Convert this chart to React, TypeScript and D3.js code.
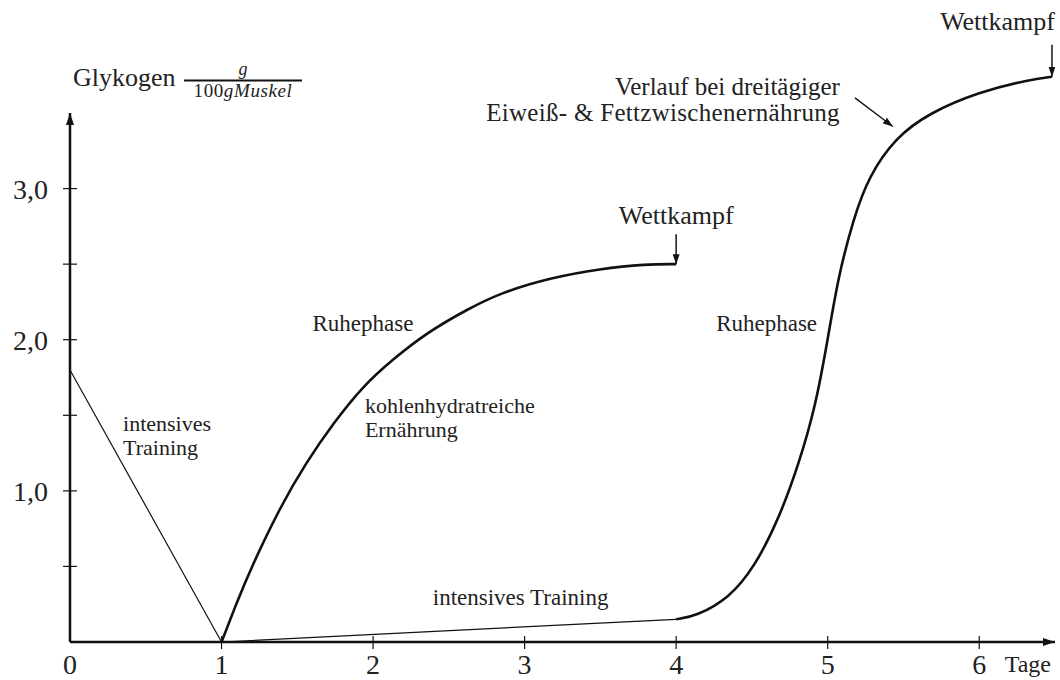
import React from 'react';
import * as d3 from 'd3';

// Glykogen-Verlauf (g / 100 g Muskel) über die Tage
const xTicks = [1, 2, 3, 4, 5, 6];
const xTickLabels = ['0', '1', '2', '3', '4', '5', '6'];
const yTicks = [0.5, 1, 1.5, 2, 2.5, 3];
const yTickLabels = ['1,0', '2,0', '3,0'];
const yLabelValues = [1, 2, 3];

// erste Trainingsphase (Tag 0 -> 1)
const training1Days = [0, 1];
const training1Values = [1.8, 0];

// Ruhephase mit kohlenhydratreicher Ernährung (Tag 1 -> 4)
const recoveryDays = [1, 1.1, 1.19, 1.39, 1.56, 1.74, 1.93, 2.13, 2.36, 2.62, 2.84, 3.17, 3.5, 3.8, 4];
const recoveryValues = [0, 0.26, 0.48, 0.9, 1.19, 1.45, 1.69, 1.87, 2.05, 2.2, 2.31, 2.41, 2.47, 2.5, 2.5];

// zweite Trainingsphase (Tag 1 -> 4)
const training2Days = [1, 4];
const training2Values = [0, 0.15];

// Ruhephase nach Eiweiß- & Fettzwischenernährung (Tag 4 -> 6,5)
const loadDays = [4, 4.13, 4.35, 4.52, 4.68, 4.81, 4.92, 5.0, 5.07, 5.17, 5.27, 5.45, 5.67, 6, 6.33, 6.48];
const loadValues = [0.15, 0.17, 0.29, 0.5, 0.82, 1.18, 1.56, 2.0, 2.42, 2.8, 3.08, 3.34, 3.5, 3.64, 3.72, 3.74];

// Wettkampf-Zeitpunkte
const competitionDays = [4, 6.48];
const competitionValues = [2.5, 3.74];

const W = 1060;
const H = 680;
const FONT = '"Liberation Serif", "DejaVu Serif", serif';

const zip = (xs: number[], ys: number[]) => xs.map((d, i) => ({ d, g: ys[i] }));

export default function App() {
  const x = d3.scaleLinear().domain([0, 6.5]).range([70, 1055]);
  const y = d3.scaleLinear().domain([0, 3.5]).range([642, 113]);

  const straight = d3.line<{ d: number; g: number }>().x(p => x(p.d)).y(p => y(p.g));
  const smooth = d3
    .line<{ d: number; g: number }>()
    .x(p => x(p.d))
    .y(p => y(p.g))
    .curve(d3.curveBasis);

  const txt = { fontFamily: FONT, fill: '#222' } as const;

  return (
    <svg width={W} height={H} style={{ position: 'absolute', left: 0, top: 0, background: '#fff' }}>
      <defs>
        <marker id="head" viewBox="0 0 12 8" refX={12} refY={4} markerWidth={12} markerHeight={8}
          markerUnits="userSpaceOnUse" orient="auto" preserveAspectRatio="none">
          <path d="M0,0 L12,4 L0,8 z" fill="#111" />
        </marker>
        <marker id="headSmall" viewBox="0 0 10 7" refX={10} refY={3.5} markerWidth={10} markerHeight={7}
          markerUnits="userSpaceOnUse" orient="auto" preserveAspectRatio="none">
          <path d="M0,0 L10,3.5 L0,7 z" fill="#111" />
        </marker>
      </defs>

      {/* axes */}
      <line x1={x(0)} y1={y(0)} x2={x(6.5)} y2={y(0)} stroke="#111" strokeWidth={2.5} markerEnd="url(#head)" />
      <line x1={x(0)} y1={y(0)} x2={x(0)} y2={y(3.5)} stroke="#111" strokeWidth={2.5} markerEnd="url(#head)" />

      {xTicks.map(t => (
        <line key={'xt' + t} x1={x(t)} x2={x(t)} y1={y(0) - 6} y2={y(0) + 7} stroke="#111" strokeWidth={1.2} />
      ))}
      {xTickLabels.map((l, i) => (
        <text key={'xl' + i} x={x(i)} y={y(0) + 32} textAnchor="middle" fontSize={28} {...txt}>{l}</text>
      ))}
      <text x={x(6.5) - 4} y={y(0) + 30} textAnchor="end" fontSize={24} {...txt}>Tage</text>

      {yTicks.map(t => (
        <line key={'yt' + t} x1={x(0) - 7} x2={x(0) + 7} y1={y(t)} y2={y(t)} stroke="#111" strokeWidth={1.2} />
      ))}
      {yTickLabels.map((l, i) => (
        <text key={'yl' + i} x={x(0) - 22} y={y(yLabelValues[i]) + 10} textAnchor="end" fontSize={28} {...txt}>{l}</text>
      ))}

      {/* axis title with fraction */}
      <text x={x(0) + 3} y={86} fontSize={26} {...txt}>Glykogen</text>
      <line x1={184} x2={302} y1={80.5} y2={80.5} stroke="#111" strokeWidth={2} />
      <text x={243} y={75} textAnchor="middle" fontSize={18} fontStyle="italic" {...txt}>g</text>
      <text x={243} y={97} textAnchor="middle" fontSize={19} letterSpacing={0.6} {...txt}>
        100<tspan fontStyle="italic">gMuskel</tspan>
      </text>

      {/* curves */}
      <path d={straight(zip(training1Days, training1Values)) || ''} fill="none" stroke="#111" strokeWidth={1.2} />
      <path d={straight(zip(training2Days, training2Values)) || ''} fill="none" stroke="#111" strokeWidth={1.2} />
      <path d={smooth(zip(recoveryDays, recoveryValues)) || ''} fill="none" stroke="#111" strokeWidth={2.6} />
      <path d={smooth(zip(loadDays, loadValues)) || ''} fill="none" stroke="#111" strokeWidth={2.6} />

      {/* competition arrows */}
      {competitionDays.map((d, i) => (
        <line key={'c' + i} x1={x(d)} x2={x(d)} y1={y(competitionValues[i]) - (i === 0 ? 30 : 32)}
          y2={y(competitionValues[i])} stroke="#111" strokeWidth={1.5} markerEnd="url(#headSmall)" />
      ))}
      <text x={x(4)} y={y(2.5) - 40} textAnchor="middle" fontSize={26} {...txt}>Wettkampf</text>
      <text x={x(6.5)} y={30} textAnchor="end" fontSize={26} {...txt}>Wettkampf</text>

      {/* annotations */}
      <text x={x(0.35)} y={431} fontSize={22} {...txt}>intensives</text>
      <text x={x(0.35)} y={455} fontSize={22} {...txt}>Training</text>
      <text x={x(1.6)} y={331} fontSize={23} {...txt}>Ruhephase</text>
      <text x={x(1.946)} y={413} fontSize={22} {...txt}>kohlenhydratreiche</text>
      <text x={x(1.946)} y={437} fontSize={22} {...txt}>Ernährung</text>
      <text x={x(2.394)} y={605} fontSize={23} {...txt}>intensives Training</text>
      <text x={x(4.93)} y={331} textAnchor="end" fontSize={23} {...txt}>Ruhephase</text>

      <text x={x(5.08)} y={95} textAnchor="end" fontSize={25} {...txt}>Verlauf bei dreitägiger</text>
      <text x={x(5.08)} y={121} textAnchor="end" fontSize={25} letterSpacing={0.3} {...txt}>Eiweiß- &amp; Fettzwischenernährung</text>
      <line x1={x(5.18)} y1={y(3.6)} x2={x(5.43)} y2={y(3.41)} stroke="#111" strokeWidth={1.3} markerEnd="url(#headSmall)" />
    </svg>
  );
}
